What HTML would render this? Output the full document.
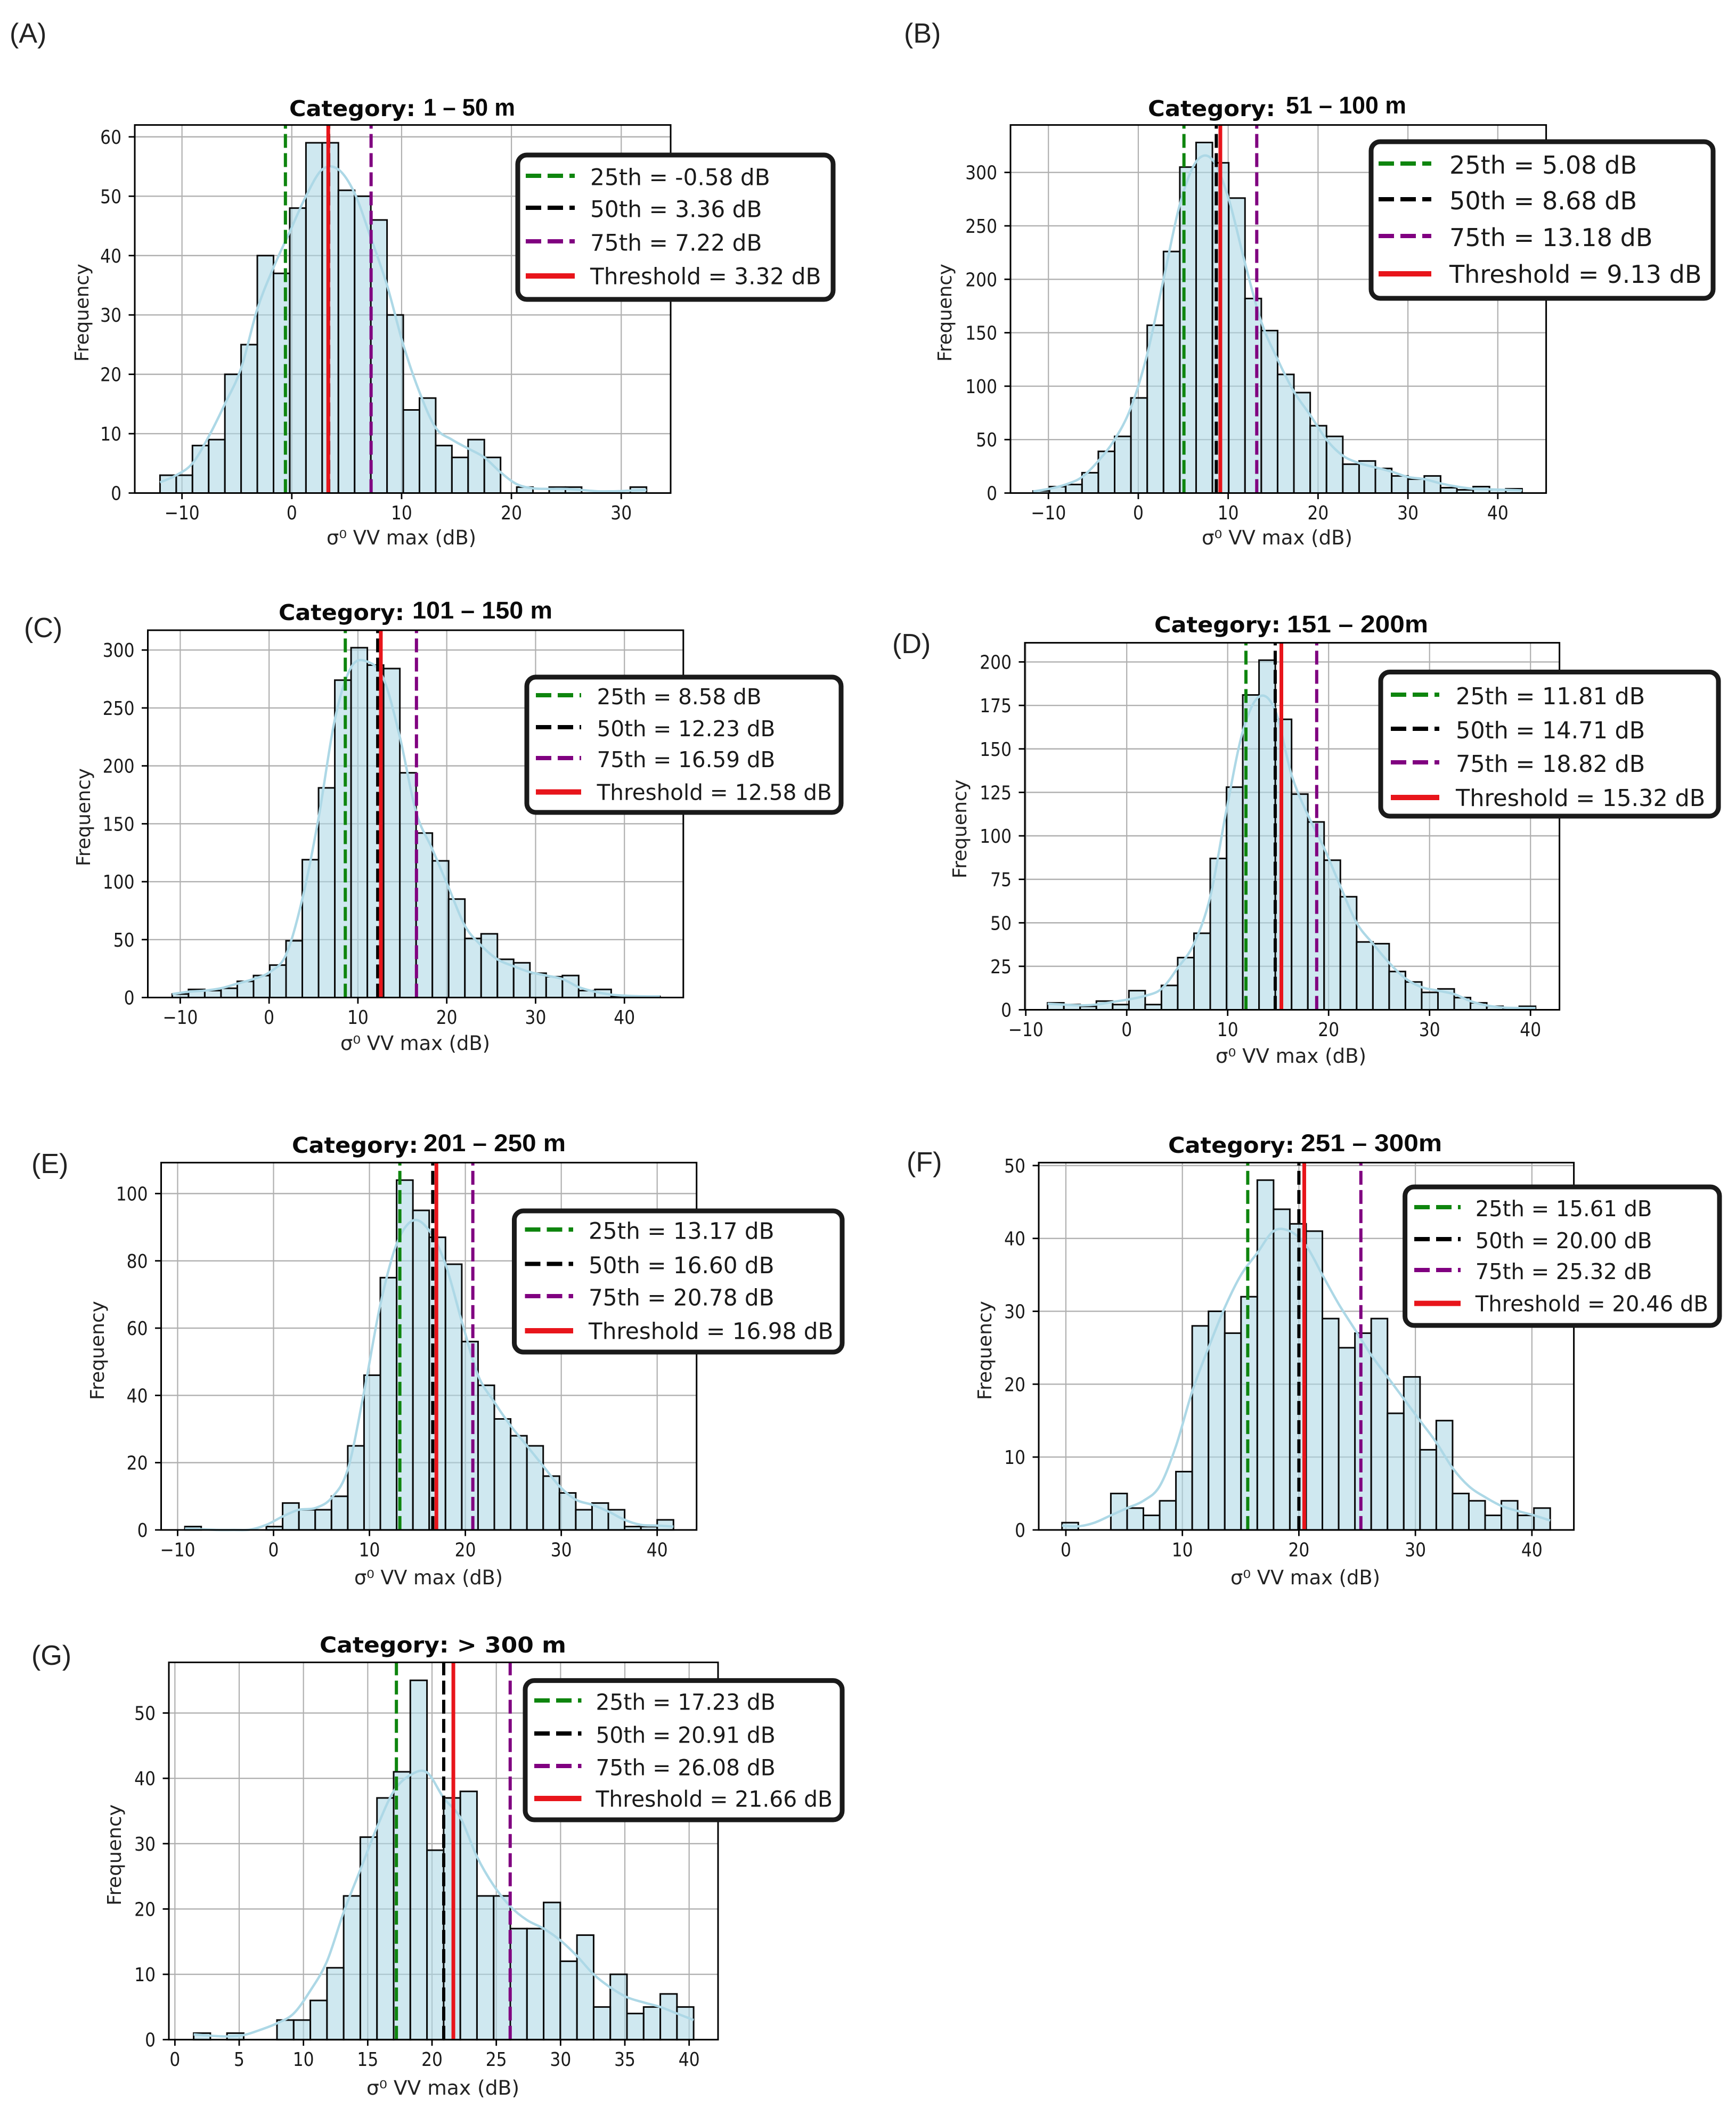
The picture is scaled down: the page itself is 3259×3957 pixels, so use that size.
<!DOCTYPE html>
<html lang="en">
<head>
<meta charset="utf-8">
<title>Histograms of σ⁰ VV max by height category</title>
<style>
  html, body { margin: 0; padding: 0; background: #fff; }
  svg { display: block; }
  text { font-family: "DejaVu Sans", "Liberation Sans", sans-serif; fill: #1a1a1a; }
  .letter { font-family: "Liberation Sans", sans-serif; font-size: 52px; fill: #222; }
  .title { font-weight: 700; font-size: 41px; fill: #0a0a0a; }
  .range { font-family: "Liberation Sans", sans-serif; font-weight: 700; font-size: 45px; fill: #0a0a0a; }
  .xlabel { font-size: 37px; fill: #222; }
  .ylabel { font-size: 36px; fill: #222; }
</style>
</head>
<body>
<svg id="figure" xmlns="http://www.w3.org/2000/svg" width="3259" height="3957" viewBox="0 0 3259 3957">
  <rect x="0" y="0" width="3259" height="3957" fill="#ffffff"/>

  <g id="panel-a"></g>
  <g id="panel-b"></g>
  <g id="panel-c"></g>
  <g id="panel-d"></g>
  <g id="panel-e"></g>
  <g id="panel-f"></g>
  <g id="panel-g"></g>

  <text class="letter" x="18" y="80">(A)</text>
  <text class="letter" x="1697" y="80">(B)</text>
  <text class="letter" x="45" y="1196">(C)</text>
  <text class="letter" x="1675" y="1226">(D)</text>
  <text class="letter" x="59" y="2202">(E)</text>
  <text class="letter" x="1702" y="2199">(F)</text>
  <text class="letter" x="59" y="3125">(G)</text>

  <text class="title" x="543" y="218" textLength="237" lengthAdjust="spacingAndGlyphs">Category:</text>
  <text class="range" x="795" y="217" textLength="172" lengthAdjust="spacingAndGlyphs">1 – 50 m</text>
  <text class="title" x="2155" y="218" textLength="239" lengthAdjust="spacingAndGlyphs">Category:</text>
  <text class="range" x="2414" y="213" textLength="226" lengthAdjust="spacingAndGlyphs">51 – 100 m</text>
  <text class="title" x="523" y="1164" textLength="236" lengthAdjust="spacingAndGlyphs">Category:</text>
  <text class="range" x="774" y="1161" textLength="263" lengthAdjust="spacingAndGlyphs">101 – 150 m</text>
  <text class="title" x="2167" y="1187" textLength="237" lengthAdjust="spacingAndGlyphs">Category:</text>
  <text class="range" x="2416" y="1187" textLength="265" lengthAdjust="spacingAndGlyphs">151 – 200m</text>
  <text class="title" x="548" y="2164" textLength="237" lengthAdjust="spacingAndGlyphs">Category:</text>
  <text class="range" x="795" y="2161" textLength="267" lengthAdjust="spacingAndGlyphs">201 – 250 m</text>
  <text class="title" x="2193" y="2164" textLength="237" lengthAdjust="spacingAndGlyphs">Category:</text>
  <text class="range" x="2442" y="2161" textLength="265" lengthAdjust="spacingAndGlyphs">251 – 300m</text>
  <text class="title" x="600" y="3102" textLength="463" lengthAdjust="spacingAndGlyphs">Category: &gt; 300 m</text>

  <text class="xlabel" x="613" y="1022" textLength="281" lengthAdjust="spacingAndGlyphs">σ⁰ VV max (dB)</text>
  <text class="xlabel" x="2256" y="1022" textLength="283" lengthAdjust="spacingAndGlyphs">σ⁰ VV max (dB)</text>
  <text class="xlabel" x="639" y="1971" textLength="281" lengthAdjust="spacingAndGlyphs">σ⁰ VV max (dB)</text>
  <text class="xlabel" x="2282" y="1995" textLength="283" lengthAdjust="spacingAndGlyphs">σ⁰ VV max (dB)</text>
  <text class="xlabel" x="665" y="2974" textLength="279" lengthAdjust="spacingAndGlyphs">σ⁰ VV max (dB)</text>
  <text class="xlabel" x="2310" y="2974" textLength="281" lengthAdjust="spacingAndGlyphs">σ⁰ VV max (dB)</text>
  <text class="xlabel" x="688" y="3932" textLength="287" lengthAdjust="spacingAndGlyphs">σ⁰ VV max (dB)</text>

  <text class="ylabel" transform="translate(166,587) rotate(-90)" text-anchor="middle" textLength="184" lengthAdjust="spacingAndGlyphs">Frequency</text>
  <text class="ylabel" transform="translate(1786,587) rotate(-90)" text-anchor="middle" textLength="184" lengthAdjust="spacingAndGlyphs">Frequency</text>
  <text class="ylabel" transform="translate(169,1534) rotate(-90)" text-anchor="middle" textLength="184" lengthAdjust="spacingAndGlyphs">Frequency</text>
  <text class="ylabel" transform="translate(1814,1556) rotate(-90)" text-anchor="middle" textLength="186" lengthAdjust="spacingAndGlyphs">Frequency</text>
  <text class="ylabel" transform="translate(195,2535) rotate(-90)" text-anchor="middle" textLength="186" lengthAdjust="spacingAndGlyphs">Frequency</text>
  <text class="ylabel" transform="translate(1861,2535) rotate(-90)" text-anchor="middle" textLength="186" lengthAdjust="spacingAndGlyphs">Frequency</text>
  <text class="ylabel" transform="translate(227,3482) rotate(-90)" text-anchor="middle" textLength="190" lengthAdjust="spacingAndGlyphs">Frequency</text>
</svg>

<script>
// ---------- data ----------
const legendNames = ['25th', '50th', '75th', 'Threshold'];

const countsA = [3,3,8,9,20,25,40,37,48,59,59,51,50,46,30,14,16,8,6,9,6,0,1,0,1,1,0,0,0,1];
const kdeA = [1.8,3,5,9.5,15,21,31,38,44,50,54.5,54.5,50.5,43,35,25,17,11,9,7.5,6,3.5,1.5,0.8,0.7,0.7,0.5,0.3,0.3,0.4,0.5];
const binRangeA = [-12, 32.3];
const xLimA = [-14.3, 34.5];
const yMaxA = 62;
const xTicksA = [-10, 0, 10, 20, 30];
const yTicksA = [0, 10, 20, 30, 40, 50, 60];
const lineValuesA = [-0.58, 3.36, 7.22, 3.32];

const countsB = [2,6,8,19,39,53,89,157,226,305,328,309,276,182,152,111,94,63,53,27,30,23,16,13,16,5,3,6,3,4];
const kdeB = [1.5,4,8,15,30,50,80,130,200,270,310,312,275,215,160,125,95,73,50,35,28,24,20,15,13,9,6,4,3.5,3,2.5];
const binRangeB = [-11.7, 42.7];
const xLimB = [-14.22, 45.38];
const yMaxB = 344.4;
const xTicksB = [-10, 0, 10, 20, 30, 40];
const yTicksB = [0, 50, 100, 150, 200, 250, 300];
const lineValuesB = [5.08, 8.68, 13.18, 9.13];

const countsC = [3,7,6,8,14,19,28,49,119,181,274,302,287,284,194,142,118,85,51,55,33,30,21,18,19,6,7,1,1,1];
const kdeC = [3,5,6,8,12,16,22,37,85,155,240,285,290,275,225,160,128,95,62,45,33,27,22,19,16,9,5,2.5,1.5,1,1];
const binRangeC = [-10.9, 44];
const xLimC = [-13.65, 46.63];
const yMaxC = 317.1;
const xTicksC = [-10, 0, 10, 20, 30, 40];
const yTicksC = [0, 50, 100, 150, 200, 250, 300];
const lineValuesC = [8.58, 12.23, 16.59, 12.58];

const countsD = [4,3,2,5,3,11,3,14,30,44,87,128,181,201,167,124,108,86,65,39,38,22,16,10,12,7,4,2,1,2];
const kdeD = [3.5,3,2.5,3,4.5,6,8,12,24,38,65,115,160,180,172,135,112,93,71,50,38,27,18,13,11,9,5,2.5,1.3,1,1];
const binRangeD = [-7.84, 40.5];
const xLimD = [-10.09, 42.87];
const yMaxD = 211;
const xTicksD = [-10, 0, 10, 20, 30, 40];
const yTicksD = [0, 25, 50, 75, 100, 125, 150, 175, 200];
const lineValuesD = [11.81, 14.71, 18.82, 15.32];

const countsE = [1,0,0,0,0,1,8,6,6,10,25,46,75,104,95,87,79,56,43,33,28,25,16,11,6,8,6,1,1,3];
const kdeE = [0.4,0.2,0,0,0.1,1.5,4,6,6.5,9.5,18,41,67,85,92,89,79,62,46,38,31,25,19,13,9,7.5,5.5,3,1.5,1.3,1];
const binRangeE = [-9.24, 41.7];
const xLimE = [-11.72, 44.11];
const yMaxE = 109.2;
const xTicksE = [-10, 0, 10, 20, 30, 40];
const yTicksE = [0, 20, 40, 60, 80, 100];
const lineValuesE = [13.17, 16.60, 20.78, 16.98];

const countsF = [1,0,0,5,3,2,4,8,28,30,27,32,48,44,42,41,29,25,27,29,16,21,11,15,5,4,2,4,2,3];
const kdeF = [0.6,0.5,1,2,3,4,6,11.5,19,25,30.5,35,38,41,41,39,35,31,27.5,24,21,18,15,12,8.5,6,4.5,3.3,2.6,2,1.3];
const binRangeF = [-0.33, 41.57];
const xLimF = [-2.33, 43.6];
const yMaxF = 50.4;
const xTicksF = [0, 10, 20, 30, 40];
const yTicksF = [0, 10, 20, 30, 40, 50];
const lineValuesF = [15.61, 20.00, 25.32, 20.46];

const countsG = [1,0,1,0,0,3,3,6,11,22,31,37,41,55,29,37,38,22,22,17,17,21,12,16,5,10,4,5,7,5];
const kdeG = [0.8,0.6,0.5,0.7,1.5,2.5,4,7.5,12,19.5,26,32.5,38,40.5,40.9,37,34,28,23.6,20.4,18.3,17,15.2,12.8,10,8,6.5,5.7,5,4,3];
const binRangeG = [1.46, 40.35];
const xLimG = [-0.47, 42.25];
const yMaxG = 57.75;
const xTicksG = [0, 5, 10, 15, 20, 25, 30, 35, 40];
const yTicksG = [0, 10, 20, 30, 40, 50];
const lineValuesG = [17.23, 20.91, 26.08, 21.66];

// ---------- layout (pixels), separate from the data ----------
const panels = [
  { id:'panel-a', counts:countsA, kde:kdeA, binRange:binRangeA, xLim:xLimA, yMax:yMaxA, xTicks:xTicksA, yTicks:yTicksA, lines:lineValuesA,
    box:[253,234.6,1259,925.5], legend:{box:[968,287,1568,566], hx:[987,1079], tx:1108, rows:[332,392,455,518], font:43, sx:0.982} },
  { id:'panel-b', counts:countsB, kde:kdeB, binRange:binRangeB, xLim:xLimB, yMax:yMaxB, xTicks:xTicksB, yTicks:yTicksB, lines:lineValuesB,
    box:[1897,234.6,2902.6,925.5], legend:{box:[2570,262,3220,564], hx:[2588,2687], tx:2721, rows:[309,376,445,514], font:46, sx:1.003} },
  { id:'panel-c', counts:countsC, kde:kdeC, binRange:binRangeC, xLim:xLimC, yMax:yMaxC, xTicks:xTicksC, yTicks:yTicksC, lines:lineValuesC,
    box:[277.5,1183,1282.8,1872.5], legend:{box:[985,1267,1583,1529], hx:[1006,1091], tx:1120.6, rows:[1307,1367,1425,1486.6], font:41, sx:0.987} },
  { id:'panel-d', counts:countsD, kde:kdeD, binRange:binRangeD, xLim:xLimD, yMax:yMaxD, xTicks:xTicksD, yTicks:yTicksD, lines:lineValuesD,
    box:[1924,1206.6,2927.6,1895.5], legend:{box:[2588,1257.5,3230,1536], hx:[2611,2702], tx:2733, rows:[1306,1370,1433,1497], font:44, sx:0.976} },
  { id:'panel-e', counts:countsE, kde:kdeE, binRange:binRangeE, xLim:xLimE, yMax:yMaxE, xTicks:xTicksE, yTicks:yTicksE, lines:lineValuesE,
    box:[302.5,2182.4,1307.7,2871.9], legend:{box:[961.5,2269,1585,2542], hx:[985.5,1076], tx:1105, rows:[2310,2374.5,2435,2498], font:43, sx:0.980} },
  { id:'panel-f', counts:countsF, kde:kdeF, binRange:binRangeF, xLim:xLimF, yMax:yMaxF, xTicks:xTicksF, yTicks:yTicksF, lines:lineValuesF,
    box:[1950,2182.4,2954.6,2871.9], legend:{box:[2633.6,2224,3232,2492], hx:[2655,2742], tx:2769.7, rows:[2268,2328,2386,2446.6], font:41, sx:0.978} },
  { id:'panel-g', counts:countsG, kde:kdeG, binRange:binRangeG, xLim:xLimG, yMax:yMaxG, xTicks:xTicksG, yTicks:yTicksG, lines:lineValuesG,
    box:[317,3120.5,1348,3828.7], legend:{box:[982,3150.6,1585,3420], hx:[1003,1091.5], tx:1118.5, rows:[3194,3256,3317,3376], font:42, sx:0.971} }
];

const lineColors = ['#0e850e', '#000000', '#800080', '#e8151b'];
const NS = 'http://www.w3.org/2000/svg';

function mk(tag, attrs, parent) {
  const el = document.createElementNS(NS, tag);
  for (const k in attrs) el.setAttribute(k, attrs[k]);
  parent.appendChild(el);
  return el;
}

function smoothPath(pts) {
  let d = 'M' + pts[0][0].toFixed(1) + ' ' + pts[0][1].toFixed(1);
  for (let i = 0; i < pts.length - 1; i++) {
    const p0 = pts[Math.max(0, i - 1)], p1 = pts[i], p2 = pts[i + 1], p3 = pts[Math.min(pts.length - 1, i + 2)];
    const c1x = p1[0] + (p2[0] - p0[0]) / 6, c1y = p1[1] + (p2[1] - p0[1]) / 6;
    const c2x = p2[0] - (p3[0] - p1[0]) / 6, c2y = p2[1] - (p3[1] - p1[1]) / 6;
    d += 'C' + c1x.toFixed(1) + ' ' + c1y.toFixed(1) + ' ' + c2x.toFixed(1) + ' ' + c2y.toFixed(1) + ' ' + p2[0].toFixed(1) + ' ' + p2[1].toFixed(1);
  }
  return d;
}

function formatTick(v) { return v < 0 ? '\u2212' + Math.abs(v) : String(v); }

function drawPanel(p) {
  const g = document.getElementById(p.id);
  const [L, T, R, B] = p.box;
  const xScale = v => L + (v - p.xLim[0]) / (p.xLim[1] - p.xLim[0]) * (R - L);
  const yScale = v => B - v / p.yMax * (B - T);

  // grid
  p.xTicks.forEach(v => {
    const line = mk('line', { x1: xScale(v), x2: xScale(v), y1: T, y2: B, stroke: '#b0b0b0', 'stroke-width': 2.2 }, g);
    
    
  });
  p.yTicks.forEach(v => {
    const line = mk('line', { x1: L, x2: R, y1: yScale(v), y2: yScale(v), stroke: '#b0b0b0', 'stroke-width': 2.4 }, g);
    
    
  });

  // histogram bars
  const binWidth = (p.binRange[1] - p.binRange[0]) / p.counts.length;
  p.counts.forEach((c, i) => {
    const x0 = xScale(p.binRange[0] + i * binWidth), x1 = xScale(p.binRange[0] + (i + 1) * binWidth);
    const bar = mk('rect', { x: x0, y: yScale(c), width: x1 - x0, height: B - yScale(c), fill: '#add8e6', 'fill-opacity': 0.58, stroke: '#0a0a0a', 'stroke-width': 3 }, g);
    
    
  });

  // KDE curve
  const pts = p.kde.map((v, i) => [xScale(p.binRange[0] + i * binWidth), yScale(v)]);
  const kde = mk('path', { d: smoothPath(pts), fill: 'none', stroke: '#add8e6', 'stroke-width': 4.5, 'stroke-linejoin': 'round' }, g);
  
  

  // percentile and threshold lines (dashes start at the baseline)
  p.lines.forEach((v, i) => {
    const attrs = { x1: xScale(v), x2: xScale(v), y1: B, y2: T, stroke: lineColors[i], 'stroke-width': i === 3 ? 7 : 6 };
    if (i < 3) attrs['stroke-dasharray'] = '26 10';
    const vline = mk('line', attrs, g);
    
    
  });

  // spines
  const spine = mk('rect', { x: L, y: T, width: R - L, height: B - T, fill: 'none', stroke: '#000', 'stroke-width': 3 }, g);
  
  

  // ticks and labels
  p.xTicks.forEach(v => {
    const tick = mk('line', { x1: xScale(v), x2: xScale(v), y1: B, y2: B + 11.5, stroke: '#000', 'stroke-width': 2.8 }, g);
    
    
    const label = mk('text', { transform: 'translate(' + xScale(v) + ',' + (B + 49.5) + ') scale(0.87,1)', 'text-anchor': 'middle', 'font-size': 36, fill: '#262626' }, g);
    label.textContent = formatTick(v);
    
    
  });
  p.yTicks.forEach(v => {
    const tick = mk('line', { x1: L - 11.5, x2: L, y1: yScale(v), y2: yScale(v), stroke: '#000', 'stroke-width': 2.8 }, g);
    
    
    const label = mk('text', { transform: 'translate(' + (L - 25) + ',' + (yScale(v) + 13) + ') scale(0.87,1)', 'text-anchor': 'end', 'font-size': 36, fill: '#262626' }, g);
    label.textContent = formatTick(v);
    
    
  });

  // legend
  const lg = p.legend;
  const lgGroup = mk('g', {}, g);
  
  
  const frame = mk('rect', { x: lg.box[0] + 4, y: lg.box[1] + 4, width: lg.box[2] - lg.box[0] - 8, height: lg.box[3] - lg.box[1] - 8, rx: 17, ry: 17, fill: '#ffffff', stroke: '#1a1a1a', 'stroke-width': 9 }, lgGroup);
  
  
  legendNames.forEach((name, i) => {
    const attrs = { x1: lg.hx[0], x2: lg.hx[1], y1: lg.rows[i] - (i === 3 ? 0 : 2), y2: lg.rows[i] - (i === 3 ? 0 : 2), stroke: lineColors[i], 'stroke-width': i === 3 ? 10 : 8 };
    if (i < 3) attrs['stroke-dasharray'] = '29 12';
    const handle = mk('line', attrs, lgGroup);
    
    
    const label = mk('text', { transform: 'translate(' + lg.tx + ',' + (lg.rows[i] + 0.3645 * lg.font) + ') scale(' + lg.sx + ',1)', 'font-size': lg.font, fill: '#161616' }, lgGroup);
    label.textContent = name + ' = ' + p.lines[i].toFixed(2) + ' dB';
    
    
  });
}

panels.forEach(drawPanel);
</script>
</body>
</html>
